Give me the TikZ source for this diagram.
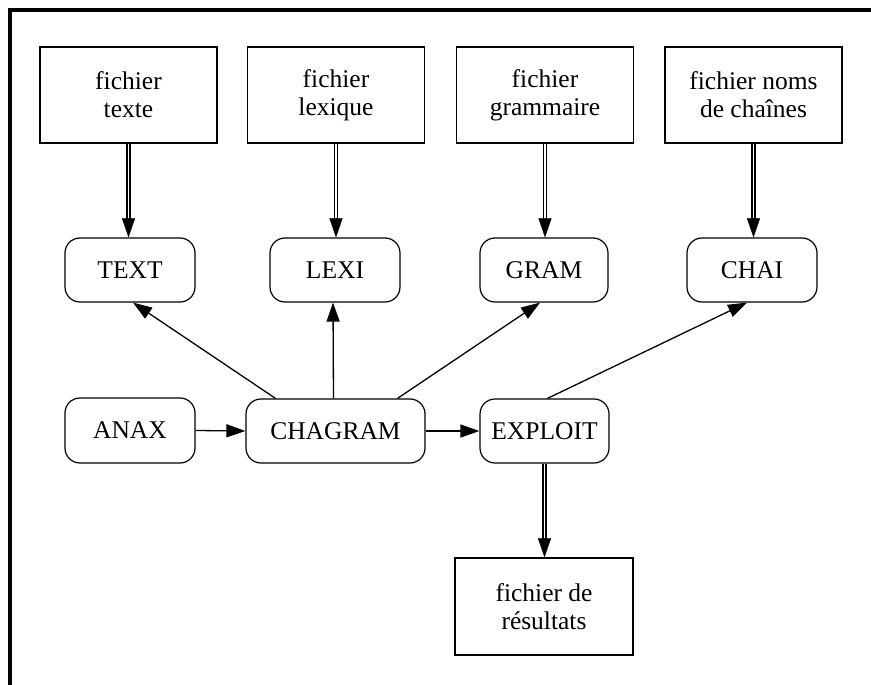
\documentclass[tikz,border=0pt]{standalone}
\usepackage{fontspec}
\setmainfont{Liberation Serif}
\usetikzlibrary{arrows.meta}
\begin{document}
\begin{tikzpicture}[x=1pt,y=-1pt,
  every node/.style={font=\fontsize{25.5}{28}\selectfont, align=center, inner sep=0pt},
  filebox/.style={draw, line width=1.2pt, minimum width=177pt, minimum height=96pt},
  procbox/.style={draw, line width=1.2pt, rounded corners=15pt, minimum width=130pt, minimum height=64pt},
  sarr/.style={line width=1.3pt, -{Triangle[length=19pt,width=13pt]}},
  dbl/.style={double, double distance=1.8pt, line width=1.4pt, shorten >=16pt},
  dblhead/.style={-{Triangle[length=19pt,width=13pt]}}
]
\useasboundingbox (0,0) rectangle (871,685);
\coordinate (fbl) at (10,685);
\coordinate (ftl) at (10,10);
\coordinate (ftr) at (871,10);
\draw[line width=3.5pt] (fbl) -- (ftl) -- (ftr);

% file boxes
\node[filebox] (f1) at (128.5,95) {fichier\\texte};
\node[filebox] (f2) at (336,95) {fichier\\lexique};
\node[filebox] (f3) at (545,95) {fichier\\grammaire};
\node[filebox] (f4) at (753.5,95) {fichier noms\\de chaînes};
\node[filebox, minimum width=178pt, minimum height=97pt] (res) at (544,606.5) {fichier de\\résultats};

% process boxes
\node[procbox] (text) at (130,270) {TEXT};
\node[procbox] (lexi) at (335,270) {LEXI};
\node[procbox, minimum width=128pt] (gram) at (544,270) {GRAM};
\node[procbox] (chai) at (752,270) {CHAI};
\node[procbox, minimum height=65pt] (anax) at (130,430.5) {ANAX};
\node[procbox, minimum width=179pt] (chagram) at (335.5,431) {CHAGRAM};
\node[procbox, minimum width=129pt] (exploit) at (544.5,431) {EXPLOIT};

% double arrows
\foreach \a/\b in {f1/text, f2/lexi, f3/gram, f4/chai}{
  \draw[dbl] (\a.south) -- (\a.south |- \b.north);
  \draw[dblhead] ([yshift=19pt]\a.south |- \b.north) -- (\a.south |- \b.north);
}
\draw[dbl] (exploit.south) -- (exploit.south |- res.north);
\draw[dblhead] ([yshift=19pt]exploit.south |- res.north) -- (exploit.south |- res.north);

% single arrows
\draw[sarr] ([xshift=-60pt]chagram.north) -- ([xshift=3pt]text.south);
\draw[sarr] ([xshift=-2pt]chagram.north) -- ([xshift=-2pt]lexi.south);
\draw[sarr] ([xshift=62pt]chagram.north) -- ([xshift=-4pt]gram.south);
\draw[sarr] ([xshift=3pt]exploit.north) -- ([xshift=-5pt]chai.south);
\draw[sarr] (anax.east) -- (chagram.west);
\draw[sarr] (chagram.east) -- (exploit.west);
\end{tikzpicture}
\end{document}
